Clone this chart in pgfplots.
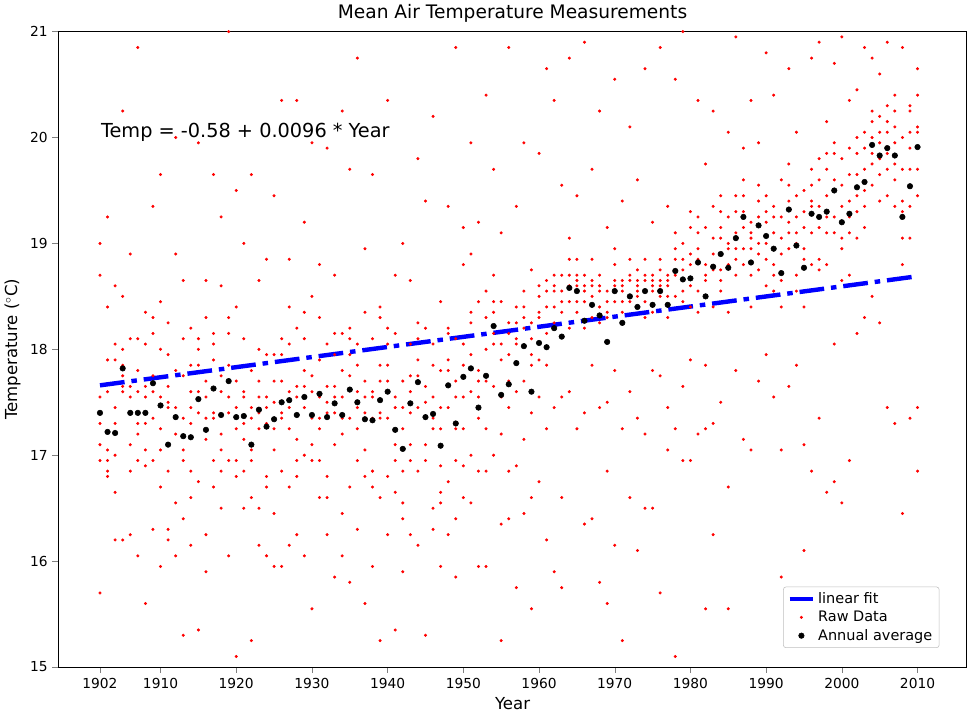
\documentclass[border=0pt]{standalone}
\usepackage{pgfplots}
\pgfplotsset{compat=1.18}
\usepackage{pgfplotstable}
\usepackage{fontspec}
\setmainfont{DejaVu Sans}
\pgfplotstableread{
yr avg a b c d e f g h
1902 17.40 19.00 17.55 15.70 17.30 18.70 16.95 17.10 17.40
1903 17.22 19.25 16.80 17.60 16.95 18.40 17.05 16.85 17.90
1904 17.21 17.90 18.05 16.20 17.45 16.65 17.30 18.60 17.00
1905 17.82 20.25 17.65 17.75 16.20 18.50 17.85 17.60 18.00
1906 17.40 18.90 17.10 16.85 17.65 18.10 16.25 17.40 17.55
1907 17.40 20.85 17.30 16.05 17.80 16.95 17.60 18.10 17.20
1908 17.40 18.05 17.55 15.60 17.05 18.35 17.30 17.65 16.90
1909 17.68 19.35 18.15 17.35 16.30 18.30 17.75 16.95 17.60
1910 17.47 18.45 17.05 15.95 17.55 19.65 17.25 16.70 18.00
1911 17.10 18.25 16.30 17.65 16.20 17.95 17.45 16.85 17.50
1912 17.36 20.00 17.80 16.55 17.20 18.90 16.05 17.45 17.35
1913 17.18 18.65 16.40 17.75 15.30 17.35 18.10 16.95 17.05
1914 17.17 17.85 16.85 17.60 16.15 18.20 17.30 16.60 17.45
1915 17.53 19.95 17.60 16.75 18.00 15.35 17.85 17.40 18.10
1916 17.24 18.30 17.35 16.25 17.70 18.65 15.90 17.15 17.55
1917 17.63 19.65 17.90 16.95 18.05 17.40 16.70 18.15 17.35
1918 17.38 19.25 17.05 18.60 16.50 17.75 16.85 17.60 17.20
1919 17.70 21.00 17.55 16.95 18.15 16.05 17.85 18.30 17.40
1920 17.36 19.50 16.95 15.10 17.70 18.40 17.25 17.45 16.80
1921 17.37 18.10 17.60 16.50 17.15 19.00 16.85 17.55 17.30
1922 17.10 19.65 16.60 17.35 15.25 17.80 16.95 17.05 17.45
1923 17.43 18.65 17.70 16.50 17.25 18.00 16.15 17.55 17.40
1924 17.27 18.85 16.80 17.55 16.05 17.95 17.30 16.70 17.45
1925 17.34 19.45 17.05 16.45 17.70 17.95 15.95 17.50 17.25
1926 17.50 20.35 17.70 16.85 17.95 15.95 17.40 18.10 17.35
1927 17.52 18.85 17.25 16.70 18.05 16.15 17.60 18.40 17.45
1928 17.38 20.35 16.95 17.55 16.25 18.20 17.15 17.65 16.80
1929 17.55 19.20 17.80 16.05 17.45 18.35 17.00 17.65 18.10
1930 17.38 19.95 17.10 15.55 17.60 18.50 16.95 17.35 17.75
1931 17.58 18.80 17.35 16.60 17.90 18.30 16.95 17.55 17.25
1932 17.36 19.90 16.80 17.65 16.25 18.05 17.50 16.60 17.40
1933 17.49 18.70 17.55 15.85 17.95 18.15 17.10 17.40 17.65
1934 17.38 20.25 17.20 16.45 17.80 16.05 17.55 18.15 17.35
1935 17.62 19.70 17.95 16.70 18.20 17.35 15.80 17.75 18.10
1936 17.50 20.75 17.25 16.30 17.85 16.95 17.60 18.05 17.45
1937 17.34 18.95 17.05 15.60 17.70 18.35 16.80 17.55 17.40
1938 17.33 19.65 16.70 17.55 15.95 18.10 17.35 16.85 17.60
1939 17.52 18.30 17.70 16.60 17.85 15.25 17.40 18.40 17.35
1940 17.60 20.35 17.85 16.80 18.05 17.35 16.25 17.70 18.20
1941 17.24 18.70 16.95 15.35 17.55 18.15 17.10 17.45 16.65
1942 17.06 19.00 16.55 17.45 15.90 17.70 16.85 17.25 16.40
1943 17.49 18.65 17.75 16.25 17.40 18.05 17.10 17.60 16.95
1944 17.69 19.80 17.90 16.85 18.10 17.45 16.15 17.75 18.25
1945 17.36 19.40 17.10 15.30 17.65 18.20 16.95 17.50 17.35
1946 17.39 20.20 17.35 16.50 17.85 16.30 17.55 18.05 17.25
1947 17.09 18.45 16.65 15.95 17.45 17.80 16.90 17.25 16.55
1948 17.66 19.35 17.90 16.75 18.15 17.45 16.25 17.80 18.20
1949 17.30 20.85 16.95 16.40 17.70 15.85 17.55 18.10 17.25
1950 17.74 19.15 18.05 16.60 17.55 18.80 17.25 17.85 16.90
1951 17.82 19.95 18.25 17.00 17.60 18.90 16.55 17.95 18.35
1952 17.45 19.20 17.80 15.95 17.55 18.45 16.85 17.35 17.70
1953 17.75 20.40 18.00 16.85 17.70 18.55 17.25 15.95 18.30
1954 18.22 19.70 18.35 17.65 18.05 18.70 17.00 18.45 18.15
1955 17.57 19.10 17.90 16.35 17.55 18.45 17.20 15.25 18.05
1956 17.67 20.85 17.95 16.85 18.25 17.45 16.40 17.70 18.15
1957 17.87 19.35 18.10 16.90 18.25 17.60 15.75 18.40 18.05
1958 18.03 19.95 18.30 17.15 18.55 17.70 16.45 18.20 18.40
1959 17.60 18.75 17.95 16.60 18.25 17.40 15.55 17.85 18.10
1960 18.06 19.85 18.35 17.55 18.60 16.75 18.30 18.50 17.90
1961 18.02 20.65 18.40 17.25 18.65 16.20 18.15 18.55 17.85
1962 18.20 20.35 18.55 17.45 18.70 15.90 18.40 18.25 18.60
1963 18.12 19.55 18.45 16.60 18.70 17.55 18.35 15.75 18.55
1964 18.58 20.75 18.70 18.20 18.45 19.05 17.60 18.60 18.85
1965 18.55 19.45 18.70 18.35 18.60 17.25 18.85 18.45 18.65
1966 18.27 20.90 18.55 17.40 18.60 16.35 18.45 18.70 18.20
1967 18.42 19.70 18.65 17.85 18.50 18.85 16.40 18.60 18.30
1968 18.32 20.25 18.60 17.45 18.55 18.70 15.80 18.40 18.25
1969 18.07 19.15 18.35 16.85 18.45 18.55 17.50 15.60 18.30
1970 18.55 20.55 18.80 17.80 18.45 18.95 16.15 18.60 18.65
1971 18.25 19.40 18.55 17.25 18.65 18.45 15.25 18.35 18.60
1972 18.50 20.10 18.70 17.60 18.50 18.85 16.60 18.65 18.45
1973 18.40 19.60 18.60 17.35 18.65 18.55 16.10 18.50 18.75
1974 18.55 20.65 18.85 18.30 18.45 17.20 16.50 18.65 18.70
1975 18.42 19.20 18.65 17.80 18.55 18.35 16.50 18.70 18.60
1976 18.55 20.85 18.75 17.75 18.65 18.85 15.70 18.50 18.60
1977 18.42 19.35 18.70 17.45 18.60 18.50 17.05 18.65 18.30
1978 18.74 20.55 18.95 18.50 18.85 19.10 17.25 18.70 15.10
1979 18.66 21.00 18.85 17.65 19.00 18.55 16.95 18.75 18.45
1980 18.67 19.30 18.90 18.40 19.15 17.90 16.95 18.80 18.60
1981 18.82 20.35 19.10 18.35 18.95 19.25 17.20 18.85 18.55
1982 18.50 19.75 18.80 17.85 19.15 17.25 15.55 18.70 18.65
1983 18.78 20.25 19.05 18.40 18.90 19.35 17.30 18.75 16.25
1984 18.90 19.45 19.15 18.55 19.30 18.75 17.50 19.05 18.65
1985 18.77 20.05 19.00 18.35 18.95 19.25 16.70 18.80 15.55
1986 19.05 20.95 19.30 18.70 19.45 18.85 17.80 19.10 18.95
1987 19.25 19.90 19.45 18.95 19.60 19.15 17.15 19.30 18.80
1988 18.82 20.35 19.05 18.40 19.20 17.05 18.95 18.70 19.10
1989 19.17 19.95 19.40 18.75 19.55 19.00 17.70 19.25 18.90
1990 19.07 20.80 19.30 18.60 19.45 17.95 19.20 18.85 19.00
1991 18.95 20.40 19.25 18.55 19.10 17.55 18.80 19.35 18.70
1992 18.72 19.60 19.05 18.40 19.25 17.05 18.65 18.90 15.85
1993 19.32 20.65 19.55 18.95 19.75 19.10 17.65 19.40 19.20
1994 18.98 20.05 19.25 18.55 19.45 17.85 19.10 18.70 19.00
1995 18.77 19.50 19.15 18.40 19.30 17.10 18.85 16.10 18.95
1996 19.28 20.75 19.55 18.80 19.70 19.10 16.85 19.40 19.35
1997 19.25 20.90 19.60 18.75 19.80 19.15 17.35 19.35 18.85
1998 19.30 20.15 19.70 18.80 19.85 19.10 16.65 19.45 19.25
1999 19.50 20.70 19.85 19.10 19.95 19.25 18.05 19.60 16.75
2000 19.20 20.95 19.55 18.65 19.80 18.95 16.55 19.35 19.05
2001 19.28 20.35 19.65 18.70 19.90 19.10 16.95 19.40 19.25
2002 19.53 20.45 19.85 19.05 20.00 19.30 18.15 19.65 19.45
2003 19.58 20.85 19.90 19.15 20.05 19.35 18.30 19.70 19.50
2004 19.93 20.75 20.15 19.55 20.25 19.75 18.50 20.00 19.85
2005 19.83 20.60 20.05 19.40 20.20 19.65 18.25 19.95 19.80
2006 19.90 20.90 20.15 19.45 20.30 19.70 17.45 20.05 19.85
2007 19.83 20.40 20.10 19.35 20.25 19.60 17.30 19.95 19.75
2008 19.25 20.85 19.70 18.80 20.00 19.05 16.45 19.40 19.30
2009 19.54 20.30 19.90 19.05 20.05 19.35 17.35 19.70 20.25
2010 19.91 20.65 20.10 19.45 20.40 19.70 16.85 17.45 20.05
}\data
\begin{document}
\begin{tikzpicture}
\begin{axis}[
  scale only axis, width=659pt, height=461pt,
  xmin=1896.5, xmax=2016.5, ymin=15, ymax=21,
  xtick={1902,1910,1920,1930,1940,1950,1960,1970,1980,1990,2000,2010},
  ytick={15,16,17,18,19,20,21},
  xticklabel style={/pgf/number format/1000 sep=},
  /pgf/number format/assume math mode=true,
  tick label style={font=\fontsize{10}{12}\selectfont},
  tick align=outside, tick pos=left,
  xlabel={Year}, ylabel={Temperature ($^\circ$C)},
  label style={font=\fontsize{12}{14}\selectfont},
  title={Mean Air Temperature Measurements},
  title style={font=\fontsize{13.5}{16}\selectfont, yshift=-3pt},
  legend pos=south east,
  legend style={font=\fontsize{10.5}{13}\selectfont, draw=black!25, rounded corners=2pt, cells={anchor=west}},
  legend cell align=left,
]
\addplot[blue, line width=3.2pt, dash pattern=on 18pt off 5pt on 4pt off 5pt] coordinates {(1902,17.66) (2010,18.69)};
\addlegendentry{linear fit}
\addplot[only marks, mark=*, mark size=0.9pt, red] table[x=yr,y=a]{\data};
\addlegendentry{Raw Data}
\foreach \c in {b,c,d,e,f,g,h}{
  \addplot[only marks, mark=*, mark size=0.9pt, red, forget plot] table[x=yr,y=\c]{\data};
}
\addplot[only marks, mark=*, mark size=2pt, black] table[x=yr,y=avg]{\data};
\addlegendentry{Annual average}
\node[anchor=west, font=\fontsize{14}{16}\selectfont] at (axis cs:1901.5,20.05) {Temp = -0.58 + 0.0096 * Year};
\end{axis}
\end{tikzpicture}
\end{document}
